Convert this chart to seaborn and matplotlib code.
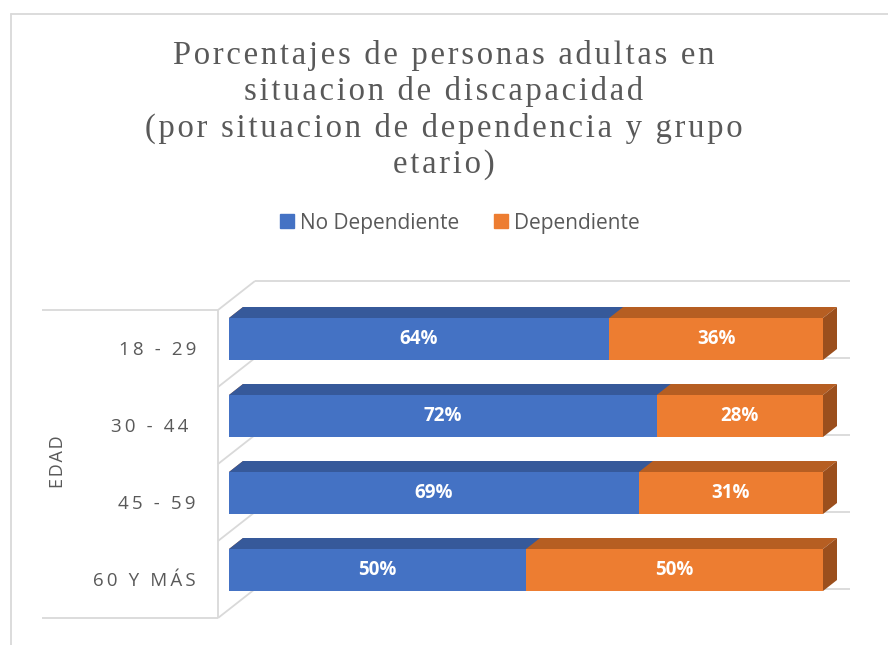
import matplotlib
matplotlib.use('Agg')
import matplotlib.pyplot as plt
from matplotlib.patches import Polygon, Patch
from matplotlib.lines import Line2D
import seaborn as sns
import pandas as pd

# datos
grupos = ['18 - 29', '30 - 44 ', '45 - 59', '60 Y MÁS']
no_dependiente = [64, 72, 69, 50]
dependiente = [36, 28, 31, 50]
series = ['No Dependiente', 'Dependiente']
titulo = ['Porcentajes de personas adultas en',
          'situacion de discapacidad',
          '(por situacion de dependencia y grupo',
          'etario)']
eje_y = 'EDAD'

# colores
azul, azul_top = '#4472C4', '#36599A'
naranja, naranja_top, naranja_lado = '#ED7D31', '#B65E22', '#9B4F1D'
gris_linea = '#D9D9D9'
gris_texto = '#595959'

sns.set_theme(style='white')
plt.rcParams['font.family'] = ['Open Sans', 'DejaVu Sans']

W, H = 888, 645
fig = plt.figure(figsize=(W / 100, H / 100), dpi=100)


def fx(x):
    return x / W


def fy(y):
    return 1 - y / H


def spaced(s, sp='\u2009'):
    return sp.join(s)


# area de barras: 0..100 % -> px 229..823
ax = fig.add_axes([fx(229), fy(630), fx(823) - fx(229), fy(270) - fy(630)])

df = pd.DataFrame({
    'grupo': grupos,
    'no_dep': no_dependiente,
    'total': [a + b for a, b in zip(no_dependiente, dependiente)],
})

ancho = 42 / 77
sns.barplot(data=df, x='total', y='grupo', orient='h', color=naranja,
            width=ancho, saturation=1, linewidth=0, ax=ax, zorder=3)
sns.barplot(data=df, x='no_dep', y='grupo', orient='h', color=azul,
            width=ancho, saturation=1, linewidth=0, ax=ax, zorder=4)

ax.set_xlim(0, 100)
ax.set_ylim((630 - 339) / 77, (270 - 339) / 77)
ax.axis('off')

# profundidad 3D (en unidades de datos)
sx, sy = 594 / 100, 77
dx, dy = 14 / sx, 11 / sy

n = len(grupos)
barras_total = ax.patches[:n]
barras_azul = ax.patches[n:2 * n]

for pt, pb, v, d in zip(barras_total, barras_azul, no_dependiente, dependiente):
    x0, y0, h = pt.get_x(), pt.get_y(), pt.get_height()
    x1 = x0 + pt.get_width()
    xb = pb.get_x() + pb.get_width()
    ax.add_patch(Polygon([(x0, y0), (x1, y0), (x1 + dx, y0 - dy), (x0 + dx, y0 - dy)],
                         closed=True, color=naranja_top, lw=0, zorder=3, clip_on=False))
    ax.add_patch(Polygon([(x0, y0), (xb, y0), (xb + dx, y0 - dy), (x0 + dx, y0 - dy)],
                         closed=True, color=azul_top, lw=0, zorder=4, clip_on=False))
    ax.add_patch(Polygon([(x1, y0), (x1 + dx, y0 - dy), (x1 + dx, y0 + h - dy), (x1, y0 + h)],
                         closed=True, color=naranja_lado, lw=0, zorder=3, clip_on=False))
    yc = y0 + h / 2
    ax.text(x0 + v / 2, yc, f'{v}%', ha='center', va='center', color='white',
            fontsize=13.5, fontweight='bold', zorder=6)
    ax.text(xb + d / 2, yc, f'{d}%', ha='center', va='center', color='white',
            fontsize=13.5, fontweight='bold', zorder=6)

# paredes y lineas de division
xl = (218 - 229) / sx
wx, wy = 37 / sx, 29 / sy
xr = (850 - 229) / sx
xlab = (42 - 229) / sx
bordes = [i - wy for i in range(n + 1)]
kw = dict(color=gris_linea, lw=1.3, zorder=1, clip_on=False, solid_capstyle='butt')
for b in bordes:
    ax.plot([xl + wx, xr], [b - wy, b - wy], **kw)
    ax.plot([xl, xl + wx], [b, b - wy], **kw)
ax.plot([xl, xl], [bordes[0], bordes[-1]], **kw)
for b in (bordes[0], bordes[-1]):
    ax.plot([xlab, xl], [b, b], **kw)

# etiquetas de categoria
for i, g in enumerate(grupos):
    ax.text((196 - 229) / sx, i + 11 / sy, spaced(g), ha='right', va='center',
            color=gris_texto, fontsize=13.5, clip_on=False)

fig.text(fx(58), fy(462), spaced(eje_y, '\u200a'), rotation=90, ha='center',
         va='center', color=gris_texto, fontsize=13)

# titulo
for linea, base in zip(titulo, [64, 100, 137, 173]):
    fig.text(0.5, fy(base), spaced(linea, '\u200a'), ha='center', va='baseline',
             family=['Liberation Serif', 'DejaVu Serif'], fontsize=23.5, color=gris_texto)

# leyenda
handles = [Patch(color=azul, label=series[0]), Patch(color=naranja, label=series[1])]
fig.legend(handles=handles, loc='center', bbox_to_anchor=(fx(460), fy(223)), ncol=2,
           frameon=False, fontsize=15, handlelength=0.65, handleheight=0.65,
           handletextpad=0.3, columnspacing=1.7, labelcolor=gris_texto)

# borde del grafico
fig.add_artist(Line2D([fx(10.5), fx(10.5)], [fy(13.5), 0], color=gris_linea, lw=1.3))
fig.add_artist(Line2D([fx(10.5), 1], [fy(13.5), fy(13.5)], color=gris_linea, lw=1.3))

fig.savefig('out.png', dpi=100, facecolor='white')
